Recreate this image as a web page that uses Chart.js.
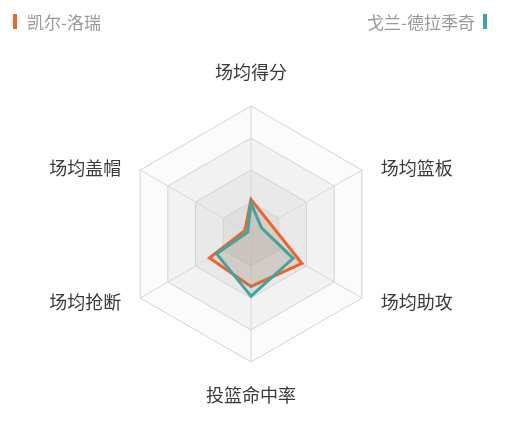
<!DOCTYPE html>
<html>
<head>
<meta charset="utf-8">
<script src="https://cdn.jsdelivr.net/npm/chart.js@4/dist/chart.umd.min.js"></script>
<style>
  html, body { margin: 0; padding: 0; background: #fff; }
  #wrap { position: relative; width: 508px; height: 441px; }
  .legend {
    position: absolute; top: 12px; height: 18px; line-height: 18px;
    font: 17px 'Noto Sans CJK SC', sans-serif; color: #999;
    display: flex; align-items: center;
  }
  .legend .bar { display: inline-block; width: 4px; height: 15px; }
  #legLeft  { left: 13px; }
  #legLeft .bar { margin-right: 10px; }
  #legRight { right: 21px; }
  #legRight .bar { margin-left: 8px; }
</style>
</head>
<body>
<div id="wrap">
  <canvas id="radar"></canvas>
  <div class="legend" id="legLeft"><span class="bar" id="barLeft"></span><span id="nameLeft"></span></div>
  <div class="legend" id="legRight"><span id="nameRight"></span><span class="bar" id="barRight"></span></div>
</div>
<script>
/* ── Data ─────────────────────────────────────────── */

const indicators = ['场均得分', '场均篮板', '场均助攻', '投篮命中率', '场均抢断', '场均盖帽'];

const lowryName    = '凯尔-洛瑞';
const lowryValues  = [27, 17, 46, 41, 37.5, 5.5];

const dragicName   = '戈兰-德拉季奇';
const dragicValues = [24, 9.5, 38, 48.5, 31, 3];

const ringLevels = [25, 50, 75, 100];

const orange = '#ea6530';
const teal   = '#3fa5a1';

/* ── Legend (html) ───────────────────────────────── */

document.getElementById('nameLeft').textContent  = lowryName;
document.getElementById('nameRight').textContent = dragicName;
document.getElementById('barLeft').style.background  = orange;
document.getElementById('barRight').style.background = teal;

/* ── Ring fills, drawn under the grid ────────────── */

const ringFill = ['#fbfbfb', '#f2f2f2', '#e9e9e9', '#dfdfdf'];

const ringsPlugin = {
  id: 'hexRings',
  beforeDatasetsDraw(chart) {
    const scale = chart.scales.r;
    const ctx = chart.ctx;
    const n = indicators.length;
    // outer to inner
    for (let k = ringLevels.length - 1; k >= 0; k--) {
      const d = scale.getDistanceFromCenterForValue(ringLevels[k]);
      ctx.save();
      ctx.beginPath();
      for (let i = 0; i < n; i++) {
        const p = scale.getPointPosition(i, d);
        i === 0 ? ctx.moveTo(p.x, p.y) : ctx.lineTo(p.x, p.y);
      }
      ctx.closePath();
      ctx.fillStyle = ringFill[ringLevels.length - 1 - k];
      ctx.fill();
      ctx.restore();
    }
    // grid lines + spokes on top of the fills
    ctx.save();
    ctx.strokeStyle = '#d2d2d2';
    ctx.lineWidth = 1;
    ringLevels.forEach(v => {
      const d = scale.getDistanceFromCenterForValue(v);
      ctx.beginPath();
      for (let i = 0; i < n; i++) {
        const p = scale.getPointPosition(i, d);
        i === 0 ? ctx.moveTo(p.x, p.y) : ctx.lineTo(p.x, p.y);
      }
      ctx.closePath();
      ctx.stroke();
    });
    ctx.strokeStyle = '#d8d8d8';
    for (let i = 0; i < n; i++) {
      const p = scale.getPointPosition(i, scale.drawingArea);
      ctx.beginPath();
      ctx.moveTo(scale.xCenter, scale.yCenter);
      ctx.lineTo(p.x, p.y);
      ctx.stroke();
    }
    ctx.restore();
  },
};

/* ── Axis names, placed beside each vertex ───────── */

const labelsPlugin = {
  id: 'axisNames',
  afterDraw(chart) {
    const scale = chart.scales.r;
    const ctx = chart.ctx;
    ctx.save();
    ctx.font = '18px "Noto Sans CJK SC", sans-serif';
    ctx.fillStyle = '#3a3a3a';
    ctx.textBaseline = 'middle';
    indicators.forEach((name, i) => {
      const p = scale.getPointPosition(i, scale.drawingArea);
      let x = p.x, y = p.y;
      if (Math.abs(p.x - scale.xCenter) < 1) {
        ctx.textAlign = 'center';
        y += p.y < scale.yCenter ? -34 : 33;
      } else if (p.x > scale.xCenter) {
        ctx.textAlign = 'left';
        x += 19;
        y += p.y < scale.yCenter ? -2 : 4;
      } else {
        ctx.textAlign = 'right';
        x -= 19;
        y += p.y < scale.yCenter ? -2 : 4;
      }
      ctx.fillText(name, x, y);
    });
    ctx.restore();
  },
};

/* ── Chart ───────────────────────────────────────── */

new Chart(document.getElementById('radar'), {
  type: 'radar',
  plugins: [ringsPlugin, labelsPlugin],
  data: {
    labels: indicators,
    datasets: [
      {
        label: lowryName,
        data: lowryValues,
        order: 2,
        borderColor: orange,
        backgroundColor: 'rgba(234,101,48,0.16)',
        borderWidth: 3,
        borderJoinStyle: 'miter',
        pointRadius: 0,
        fill: true,
      },
      {
        label: dragicName,
        data: dragicValues,
        order: 1,
        borderColor: teal,
        backgroundColor: 'rgba(63,165,161,0.14)',
        borderWidth: 3,
        borderJoinStyle: 'miter',
        pointRadius: 0,
        fill: true,
      },
    ],
  },
  options: {
    responsive: true,
    maintainAspectRatio: false,
    animation: false,
    layout: { padding: { top: 106, bottom: 79, left: 123, right: 129 } },
    scales: {
      r: {
        min: 0,
        max: 100,
        ticks: { display: false, stepSize: 25 },
        grid: { display: false },
        angleLines: { display: false },
        pointLabels: { display: false },
      },
    },
    plugins: {
      legend:  { display: false },
      tooltip: { enabled: false },
    },
  },
});
</script>
</body>
</html>
